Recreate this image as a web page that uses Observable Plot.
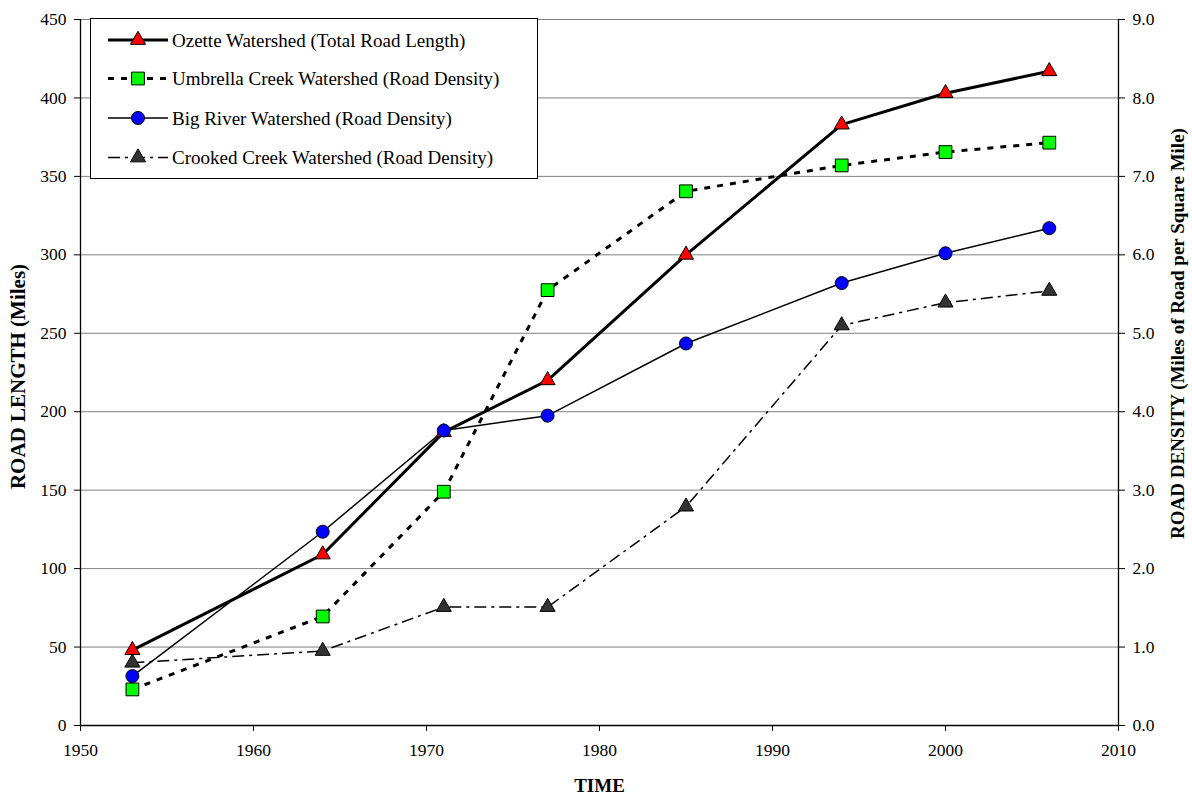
<!DOCTYPE html>
<html><head><meta charset="utf-8">
<script src="https://cdn.jsdelivr.net/npm/d3@7"></script>
<script src="https://cdn.jsdelivr.net/npm/@observablehq/plot@0.6"></script>
<style>
body{margin:0;background:#fff}
#chart{width:1192px;height:796px}
#chart svg, #chart svg text{font-family:"Liberation Serif","Times New Roman",Times,serif !important;}
</style>
</head><body><div id="chart"></div>
<script>
const years = [1953, 1964, 1971, 1977, 1985, 1994, 2000, 2006];
const ozetteMiles = [48, 109, 187, 220, 300, 383, 403, 417];
const umbrellaDensity = [0.46, 1.39, 2.98, 5.55, 6.81, 7.14, 7.31, 7.43];
const bigRiverDensity = [0.63, 2.47, 3.76, 3.95, 4.87, 5.64, 6.02, 6.34];
const crookedDensity = [0.80, 0.95, 1.51, 1.51, 2.79, 5.10, 5.39, 5.54];
const seriesNames = [
  "Ozette Watershed (Total Road Length)",
  "Umbrella Creek Watershed (Road Density)",
  "Big River Watershed (Road Density)",
  "Crooked Creek Watershed (Road Density)"
];
const leftTicks = [0, 50, 100, 150, 200, 250, 300, 350, 400, 450];
const rightTicks = [0, 1, 2, 3, 4, 5, 6, 7, 8, 9];
const xTicks = [1950, 1960, 1970, 1980, 1990, 2000, 2010];
const xTitle = "TIME";
const yLeftTitle = "ROAD LENGTH (Miles)";
const yRightTitle = "ROAD DENSITY (Miles of Road per Square Mile)";

const milesMax = 450, densityMax = 9;
const k = milesMax / densityMax; // density -> left-axis units

const styles = [
  {stroke: "#000", strokeWidth: 3, dash: null, symbol: "triangle", fill: "#ff0000", r: 5.6},
  {stroke: "#000", strokeWidth: 3, dash: "6,7", symbol: "square", fill: "#00ff00", r: 7.2},
  {stroke: "#000", strokeWidth: 1.5, dash: null, symbol: "circle", fill: "#0000ff", r: 6.5},
  {stroke: "#000", strokeWidth: 1.5, dash: "12,5,3,5", symbol: "triangle", fill: "#333333", r: 5.6}
];

const rows = [];
years.forEach((yr, i) => {
  rows.push({s: 0, year: yr, v: ozetteMiles[i]});
  rows.push({s: 1, year: yr, v: umbrellaDensity[i] * k});
  rows.push({s: 2, year: yr, v: bigRiverDensity[i] * k});
  rows.push({s: 3, year: yr, v: crookedDensity[i] * k});
});

const font = "Liberation Serif";
const seriesMarks = [];
styles.forEach((st, s) => {
  const data = rows.filter(d => d.s === s);
  seriesMarks.push(Plot.line(data, {x: "year", y: "v", stroke: st.stroke, strokeWidth: st.strokeWidth,
    strokeDasharray: st.dash, strokeLinecap: "butt", strokeLinejoin: "round"}));
});
styles.forEach((st, s) => {
  const data = rows.filter(d => d.s === s);
  seriesMarks.push(Plot.dot(data, {x: "year", y: "v", symbol: () => st.symbol, r: st.r, fill: st.fill, stroke: "#000", strokeWidth: 1}));
});

const chart = Plot.plot({
  width: 1192, height: 796,
  marginLeft: 80, marginRight: 74, marginTop: 19, marginBottom: 71,
  style: {fontFamily: font, fontSize: "17.5px", color: "#000", background: "#fff"},
  x: {domain: [1950, 2010]},
  y: {domain: [0, milesMax]},
  symbol: {type: "identity"},
  marks: [
    Plot.ruleY(leftTicks.filter(d => d > 0), {stroke: "#808080", strokeWidth: 1}),
    Plot.ruleY([0], {stroke: "#000", strokeWidth: 1.3}),
    Plot.ruleX([1950, 2010], {stroke: "#000", strokeWidth: 1.3}),
    Plot.axisY({ticks: leftTicks, tickSize: 6, tickPadding: 8, label: null, fontSize: 17.5, tickFormat: d => String(d)}),
    Plot.axisY({anchor: "right", ticks: rightTicks.map(d => d * k), tickFormat: d => (d / k).toFixed(1),
      tickSize: 6, tickPadding: 8, label: null, fontSize: 17.5}),
    Plot.axisX({ticks: xTicks, tickFormat: d => String(d), tickSize: 6, tickPadding: 12, label: null, fontSize: 17.5}),
    ...seriesMarks,
    Plot.text([yLeftTitle], {frameAnchor: "left", rotate: -90, dx: -62, dy: 4, textAnchor: "middle", lineAnchor: "middle",
      fontWeight: "bold", fontSize: 21}),
    Plot.text([yRightTitle], {frameAnchor: "right", rotate: -90, dx: 59, dy: -39, textAnchor: "middle", lineAnchor: "middle",
      fontWeight: "bold", fontSize: 19}),
    Plot.text([xTitle], {frameAnchor: "bottom", dy: 60, textAnchor: "middle", lineAnchor: "middle",
      fontWeight: "bold", fontSize: 19})
  ]
});

// Legend box inside the plot (top-left)
const svg = d3.select(chart);
const lg = svg.append("g").attr("font-family", font).attr("font-size", 19).attr("text-anchor", "start");
lg.append("rect").attr("x", 90.5).attr("y", 18.5).attr("width", 447).attr("height", 160)
  .attr("fill", "#fff").attr("stroke", "#000").attr("stroke-width", 1);
const rowY = [40, 78.5, 118, 157.5];
const sym = {triangle: d3.symbolTriangle, square: d3.symbolSquare, circle: d3.symbolCircle};
styles.forEach((st, i) => {
  const y = rowY[i];
  lg.append("line").attr("x1", 108).attr("x2", 168).attr("y1", y).attr("y2", y)
    .attr("stroke", st.stroke).attr("stroke-width", st.strokeWidth)
    .attr("stroke-dasharray", st.dash).attr("stroke-linecap", "butt");
  lg.append("path").attr("d", d3.symbol(sym[st.symbol], st.r * st.r * Math.PI)())
    .attr("transform", `translate(138,${y})`).attr("fill", st.fill).attr("stroke", "#000");
  lg.append("text").attr("x", 172).attr("y", y).attr("dy", "0.35em").attr("text-anchor", "start").text(seriesNames[i]);
});
svg.selectAll("text").style("font-family", '"Liberation Serif", "Times New Roman", serif');

document.getElementById("chart").appendChild(chart);
</script>
</body></html>
